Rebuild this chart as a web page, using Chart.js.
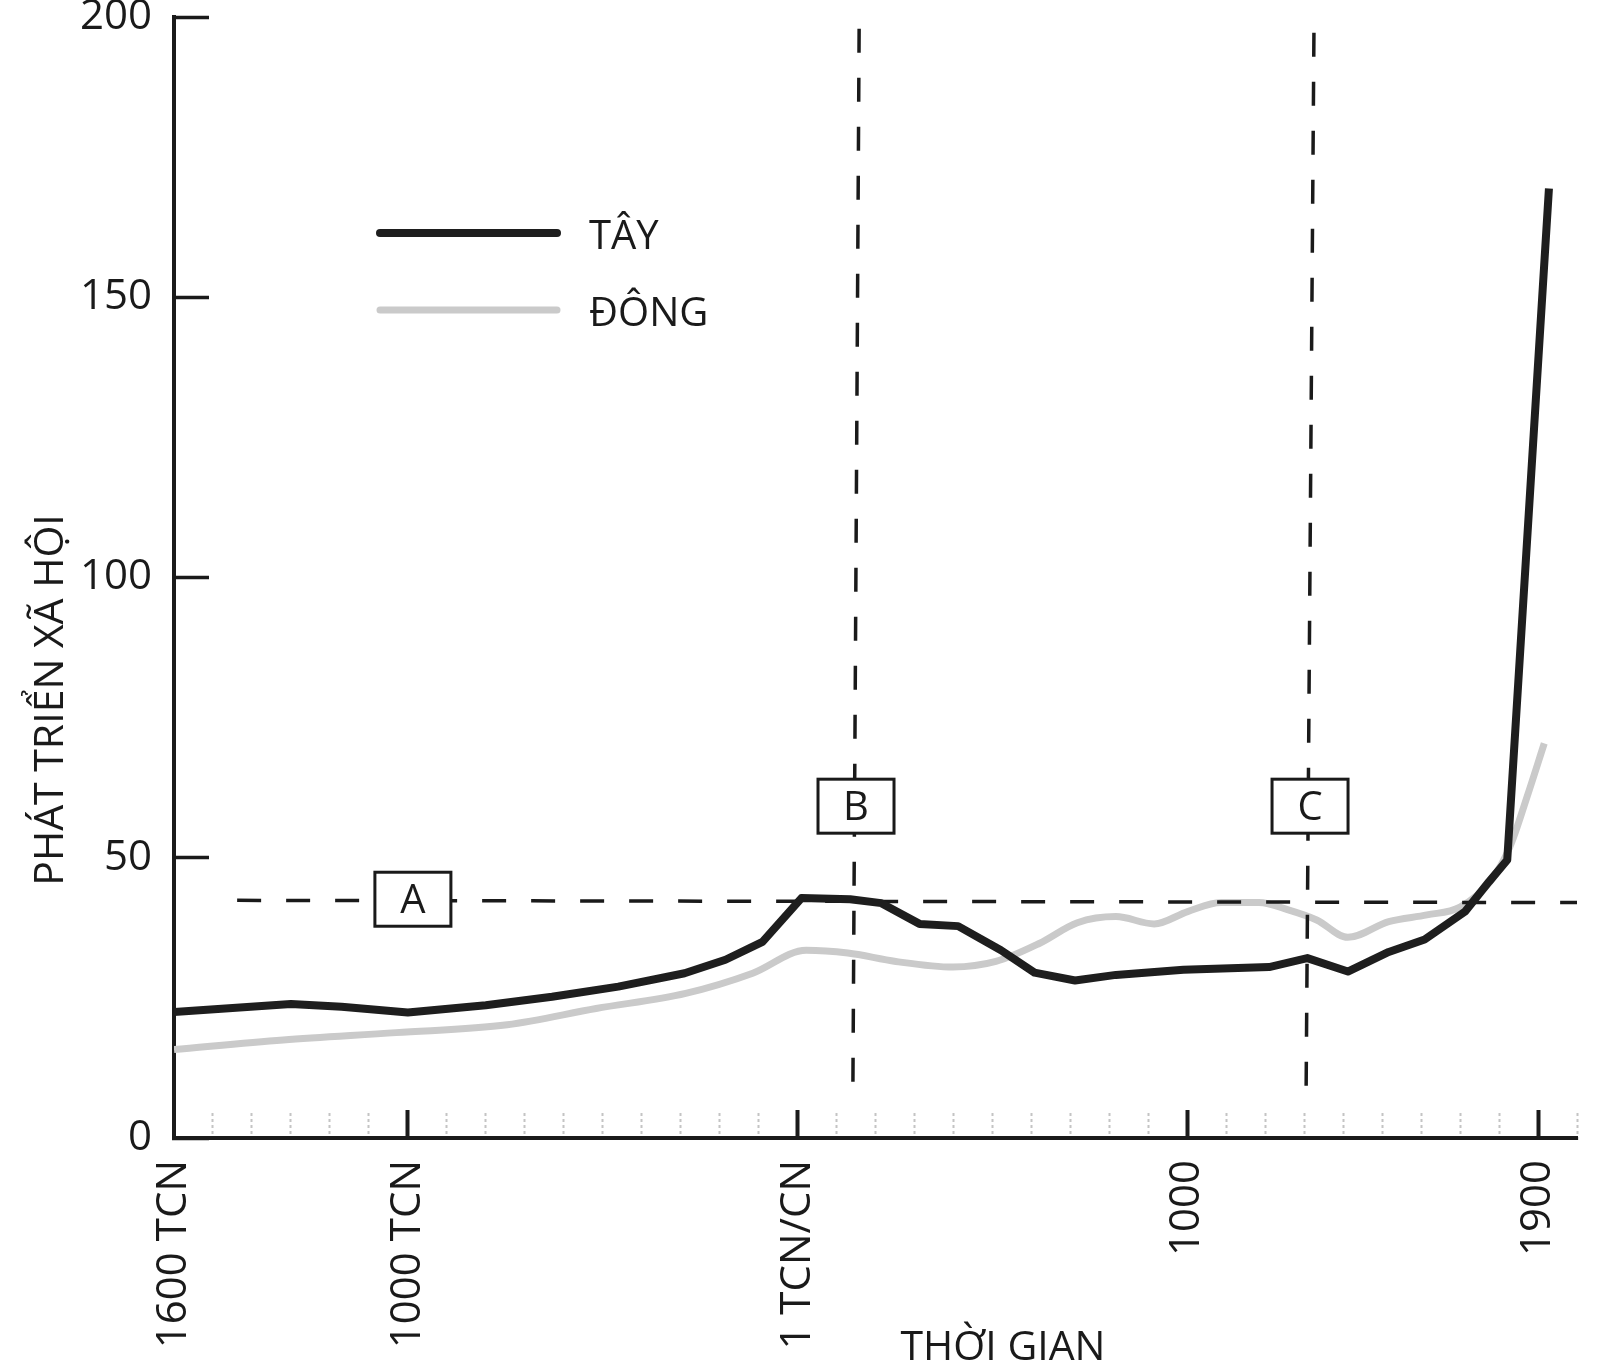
<!DOCTYPE html>
<html lang="vi">
<head>
<meta charset="utf-8">
<title>Phát triển xã hội Đông – Tây</title>
<script src="https://cdn.jsdelivr.net/npm/chart.js@4.4.1/dist/chart.umd.min.js"></script>
<style>
  html, body { margin: 0; padding: 0; background: #fff; }
  #wrap { width: 1600px; height: 1371px; position: relative; }
</style>
</head>
<body>
<div id="wrap"><canvas id="devChart"></canvas></div>
<script>
// values (year, social development score)
const westYears  = [-1600, -1300, -1170, -1000, -800, -630, -460, -290, -185, -90, 10, 135, 215, 313, 412, 522, 608, 712, 817, 990, 1210, 1308, 1412, 1517, 1609, 1713, 1774, 1821, 1928];
const westValues = [22.5, 23.9, 23.4, 22.4, 23.7, 25.2, 27.0, 29.4, 31.8, 35.0, 42.8, 42.6, 41.9, 38.2, 37.8, 33.5, 29.5, 28.1, 29.1, 30.0, 30.5, 32.1, 29.7, 33.2, 35.4, 40.4, 45.7, 49.6, 169.4];

const eastYears  = [-1600, -1320, -1030, -745, -517, -287, -115, 22, 129, 252, 399, 509, 620, 718, 817, 915, 1001, 1087, 1184, 1259, 1332, 1412, 1517, 1615, 1700, 1780, 1828, 1872, 1916];
const eastValues = [15.8, 17.5, 18.8, 20.2, 23.1, 25.8, 29.4, 33.5, 33.0, 31.5, 30.5, 31.5, 34.7, 38.4, 39.5, 38.2, 40.4, 42.0, 42.0, 40.7, 38.9, 35.8, 38.6, 39.8, 41.2, 46.0, 52.0, 60.9, 70.4];

// dashed guide lines (end points)
const guideAYears  = [-1438, 2000];
const guideAValues = [42.4, 42.0];
const guideBYears  = [158, 142];
const guideBValues = [197.9, 9.1];
const guideCYears  = [1325, 1305];
const guideCValues = [197.2, 9.1];

// boxed markers
const boxLabels = ['A', 'B', 'C'];
const boxYears  = [-987, 150, 1315];
const boxValues = [42.6, 59.2, 59.2];

// axis labels
const xLabelValues = [-1600, -1000, 0, 1000, 1900];
const xLabelTexts  = ['1600 TCN', '1000 TCN', '1 TCN/CN', '1000', '1900'];
const xMajorTicks  = [-1000, 0, 1000, 1900];
const yTickValues  = [0, 50, 100, 150, 200];

const seriesNames = ['TÂY', 'ĐÔNG'];
const xTitle = 'THỜI GIAN';
const yTitle = 'PHÁT TRIỂN XÃ HỘI';

const FONT = '"Open Sans", "Noto Sans", sans-serif';
const INK = '#1a1a1a';

const toPoints = (xs, ys) => xs.map((x, i) => ({ x: x, y: ys[i] }));
const isMajor = (c) => c.tick && xMajorTicks.includes(Math.round(c.tick.value));

const guideStyle = {
  borderColor: INK,
  borderWidth: 3.5,
  borderDash: [24, 25],
  pointRadius: 0,
  fill: false,
  tension: 0
};

const overlayPlugin = {
  id: 'overlay',
  afterDatasetsDraw(chart, args, opts) {
    const { ctx, scales: { x, y } } = chart;
    ctx.save();
    ctx.font = '40px ' + FONT;
    ctx.textAlign = 'center';
    ctx.textBaseline = 'alphabetic';
    boxLabels.forEach((lab, i) => {
      const cx = x.getPixelForValue(boxYears[i]);
      const cy = y.getPixelForValue(boxValues[i]);
      const w = opts.boxWidth, h = opts.boxHeight;
      ctx.fillStyle = '#fff';
      ctx.fillRect(cx - w / 2, cy - h / 2, w, h);
      ctx.lineWidth = 3;
      ctx.strokeStyle = INK;
      ctx.strokeRect(cx - w / 2, cy - h / 2, w, h);
      ctx.fillStyle = INK;
      ctx.fillText(lab, cx, cy + 14);
    });
    ctx.restore();
  },
  afterDraw(chart, args, opts) {
    const { ctx } = chart;
    ctx.save();

    // legend
    ctx.font = '40px ' + FONT;
    ctx.textAlign = 'left';
    ctx.textBaseline = 'alphabetic';
    const shown = chart.data.datasets.filter(d => seriesNames.includes(d.label));
    shown.forEach((d, i) => {
      const ly = opts.legendY + i * opts.legendGap;
      ctx.beginPath();
      ctx.lineCap = 'round';
      ctx.lineWidth = d.borderWidth;
      ctx.strokeStyle = d.borderColor;
      ctx.moveTo(opts.legendX1, ly);
      ctx.lineTo(opts.legendX2, ly);
      ctx.stroke();
      ctx.fillStyle = INK;
      ctx.fillText(d.label, opts.legendTextX, ly + 16);
    });

    // axis titles
    ctx.font = '41px ' + FONT;
    ctx.textAlign = 'center';
    ctx.fillStyle = INK;
    ctx.fillText(xTitle, opts.xTitleX, opts.xTitleY);
    ctx.translate(opts.yTitleX, opts.yTitleY);
    ctx.rotate(-Math.PI / 2);
    ctx.fillText(yTitle, 0, 0);

    ctx.restore();
  }
};

new Chart(document.getElementById('devChart'), {
  type: 'line',
  data: {
    datasets: [
      {
        label: seriesNames[0],
        data: toPoints(westYears, westValues),
        borderColor: '#1e1e1e',
        borderWidth: 8,
        borderJoinStyle: 'round',
        pointRadius: 0,
        tension: 0,
        fill: false
      },
      Object.assign({ label: '', data: toPoints(guideAYears, guideAValues) }, guideStyle),
      Object.assign({ label: '', data: toPoints(guideBYears, guideBValues) }, guideStyle),
      Object.assign({ label: '', data: toPoints(guideCYears, guideCValues) }, guideStyle),
      {
        label: seriesNames[1],
        data: toPoints(eastYears, eastValues),
        borderColor: '#cacaca',
        borderWidth: 7,
        pointRadius: 0,
        cubicInterpolationMode: 'monotone',
        fill: false
      }
    ]
  },
  options: {
    responsive: true,
    maintainAspectRatio: false,
    animation: false,
    layout: { padding: { left: 0, right: 23, top: 0, bottom: 0 } },
    plugins: {
      legend: { display: false },
      tooltip: { enabled: false },
      overlay: {
        boxWidth: 76,
        boxHeight: 54,
        legendX1: 380,
        legendX2: 557,
        legendTextX: 589,
        legendY: 233,
        legendGap: 77,
        xTitleX: 1003,
        xTitleY: 1360,
        yTitleX: 63,
        yTitleY: 700
      }
    },
    scales: {
      x: {
        type: 'linear',
        min: -1600,
        max: 2000,
        afterFit: (s) => {
          s.height = 233;
          s.paddingLeft = 0;
          s.paddingRight = 0;
        },
        border: { display: true, color: INK, width: 4 },
        grid: {
          drawOnChartArea: false,
          drawTicks: true,
          tickLength: -28,
          tickColor: (c) => isMajor(c) ? INK : '#c4c4c4',
          tickWidth: (c) => isMajor(c) ? 4 : 2,
          tickBorderDash: (c) => isMajor(c) ? [] : [3, 3]
        },
        ticks: {
          stepSize: 100,
          autoSkip: false,
          minRotation: 90,
          maxRotation: 90,
          padding: 50,
          color: INK,
          font: { family: FONT, size: 42 },
          callback: (v) => {
            const i = xLabelValues.indexOf(Math.round(v));
            return i >= 0 ? xLabelTexts[i] : '';
          }
        }
      },
      y: {
        type: 'linear',
        min: 0,
        max: 200,
        afterFit: (s) => {
          s.width = 174;
          s.paddingTop = 17;
          s.paddingBottom = 0;
        },
        afterBuildTicks: (s) => { s.ticks = yTickValues.map(v => ({ value: v })); },
        border: { display: true, color: INK, width: 4 },
        grid: {
          drawOnChartArea: false,
          drawTicks: true,
          tickLength: -35,
          tickColor: INK,
          tickWidth: 3.5
        },
        ticks: {
          padding: 57,
          color: INK,
          font: { family: FONT, size: 42 }
        }
      }
    }
  },
  plugins: [overlayPlugin]
});
</script>
</body>
</html>
